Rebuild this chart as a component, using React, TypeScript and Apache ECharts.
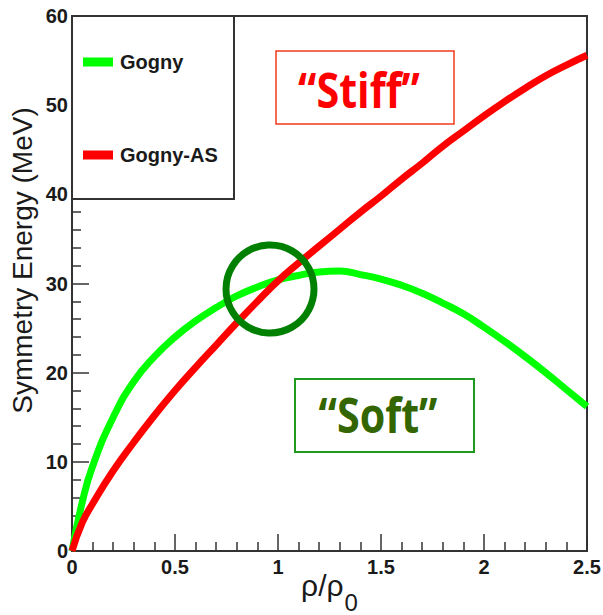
import React, { useEffect, useRef } from "react";
import * as echarts from "echarts";

const rho: number[] = [0, 0.05, 0.1, 0.2, 0.3, 0.4, 0.5, 0.6, 0.7, 0.8, 0.9, 1.0, 1.1, 1.2, 1.3, 1.4, 1.5, 1.6, 1.7, 1.8, 1.9, 2.0, 2.1, 2.2, 2.3, 2.4, 2.5];
const gogny: number[] = [0, 5.5, 9.5, 15.0, 19.0, 21.8, 24.0, 25.8, 27.3, 28.6, 29.6, 30.4, 30.9, 31.3, 31.4, 31.0, 30.5, 29.8, 28.9, 27.8, 26.6, 25.1, 23.5, 21.8, 20.0, 18.1, 16.2];
const gognyAS: number[] = [0, 3.2, 5.3, 9.0, 12.2, 15.2, 18.0, 20.6, 23.1, 25.6, 28.0, 30.3, 32.3, 34.2, 36.1, 38.0, 39.8, 41.7, 43.5, 45.4, 47.1, 48.8, 50.4, 51.9, 53.3, 54.5, 55.6];
const seriesNames: string[] = ["Gogny", "Gogny-AS"];
const seriesColors: string[] = ["#00ff00", "#ff0000"];
const xTitle = "ρ/ρ";
const xTitleSub = "0";
const yTitle = "Symmetry Energy (MeV)";
const stiffLabel = "“Stiff”";
const softLabel = "“Soft”";

const FONT = "'Liberation Sans', Arial, Helvetica, sans-serif";
const INK = "#1a1a1a";

export default function App() {
  const ref = useRef<HTMLDivElement>(null);
  useEffect(() => {
    if (!ref.current) return;
    const chart = echarts.init(ref.current, undefined, { renderer: "svg" });
    const mk = (vals: number[]) => rho.map((x, i) => [x, vals[i]]);
    chart.setOption({
      animation: false,
      backgroundColor: "#ffffff",
      grid: {
        left: 72,
        top: 16,
        width: 515,
        height: 535,
        show: true,
        borderColor: "#333",
        borderWidth: 2,
        backgroundColor: "transparent",
        containLabel: false,
        outerBoundsMode: "none",
      },
      legend: {
        data: seriesNames.map((n) => ({ name: n, icon: "rect" })),
        orient: "vertical",
        left: 78,
        top: 47,
        itemWidth: 30,
        itemHeight: 9,
        itemGap: 73,
        selectedMode: false,
        textStyle: { fontFamily: FONT, fontWeight: "bold", fontSize: 20, color: INK, lineHeight: 18, padding: [0, 0, 0, 2] },
        z: 5,
      },
      xAxis: {
        type: "value",
        min: 0,
        max: 2.5,
        interval: 0.5,
        name: `{a|${xTitle}}{b|${xTitleSub}}`,
        nameLocation: "middle",
        nameGap: 19,
        nameMoveOverlap: false,
        nameTextStyle: {
          verticalAlign: "top",
          rich: {
            a: { fontFamily: FONT, fontSize: 30, lineHeight: 32, color: INK, verticalAlign: "top" },
            b: { fontFamily: FONT, fontSize: 24, lineHeight: 24, color: INK, verticalAlign: "top", padding: [20, 0, 0, 1] },
          },
        },
        axisLine: { show: true, lineStyle: { color: "#333", width: 2 } },
        axisTick: { show: true, inside: true, length: 17, lineStyle: { color: "#333", width: 1.5 } },
        minorTick: { show: true, splitNumber: 5, length: 9, lineStyle: { color: "#333", width: 1.5 } },
        axisLabel: { fontFamily: FONT, fontWeight: "bold", fontSize: 20, color: INK, margin: 6 },
        splitLine: { show: false },
      },
      yAxis: {
        type: "value",
        min: 0,
        max: 60,
        interval: 10,
        name: yTitle,
        nameLocation: "middle",
        nameGap: 36,
        nameMoveOverlap: false,
        nameRotate: 90,
        nameTextStyle: { fontFamily: FONT, fontSize: 28, color: INK, padding: [0, 0, 0, 46] },
        axisLine: { show: true, lineStyle: { color: "#333", width: 2 } },
        axisTick: { show: true, inside: true, length: 17, lineStyle: { color: "#333", width: 1.5 } },
        minorTick: { show: true, splitNumber: 5, length: 9, lineStyle: { color: "#333", width: 1.5 } },
        axisLabel: { fontFamily: FONT, fontWeight: "bold", fontSize: 20, color: INK, margin: 4 },
        splitLine: { show: false },
      },
      series: [
        {
          name: seriesNames[0],
          type: "line",
          data: mk(gogny),
          smooth: true,
          showSymbol: false,
          lineStyle: { color: seriesColors[0], width: 7 },
          itemStyle: { color: seriesColors[0] },
          z: 3,
        },
        {
          name: seriesNames[1],
          type: "line",
          data: mk(gognyAS),
          smooth: true,
          showSymbol: false,
          lineStyle: { color: seriesColors[1], width: 7 },
          itemStyle: { color: seriesColors[1] },
          z: 4,
        },
      ],
      graphic: [
        { type: "rect", z: 1, shape: { x: 72, y: 16, width: 162, height: 183 }, style: { fill: "#fff", stroke: "#333", lineWidth: 2 } },
        { type: "rect", z: 6, shape: { x: 276, y: 51, width: 178, height: 73 }, style: { fill: "none", stroke: "#f23a1c", lineWidth: 1.5 } },
        { type: "text", z: 6, x: 359, y: 89, scaleX: 0.86, style: { text: stiffLabel, fill: "#ff0000", font: "bold 48px 'Open Sans', sans-serif", align: "center", verticalAlign: "middle" } },
        { type: "rect", z: 6, shape: { x: 295, y: 379, width: 179, height: 73 }, style: { fill: "none", stroke: "#1f9a1f", lineWidth: 2 } },
        { type: "text", z: 6, x: 378, y: 414, scaleX: 0.86, style: { text: softLabel, fill: "#336600", font: "bold 48px 'Open Sans', sans-serif", align: "center", verticalAlign: "middle" } },
        { type: "circle", z: 10, shape: { cx: 270, cy: 289, r: 44 }, style: { fill: "none", stroke: "#008000", lineWidth: 7 } },
      ],
    });
    return () => chart.dispose();
  }, []);
  return <div ref={ref} style={{ position: "fixed", left: 0, top: 0, width: 603, height: 615 }} />;
}
